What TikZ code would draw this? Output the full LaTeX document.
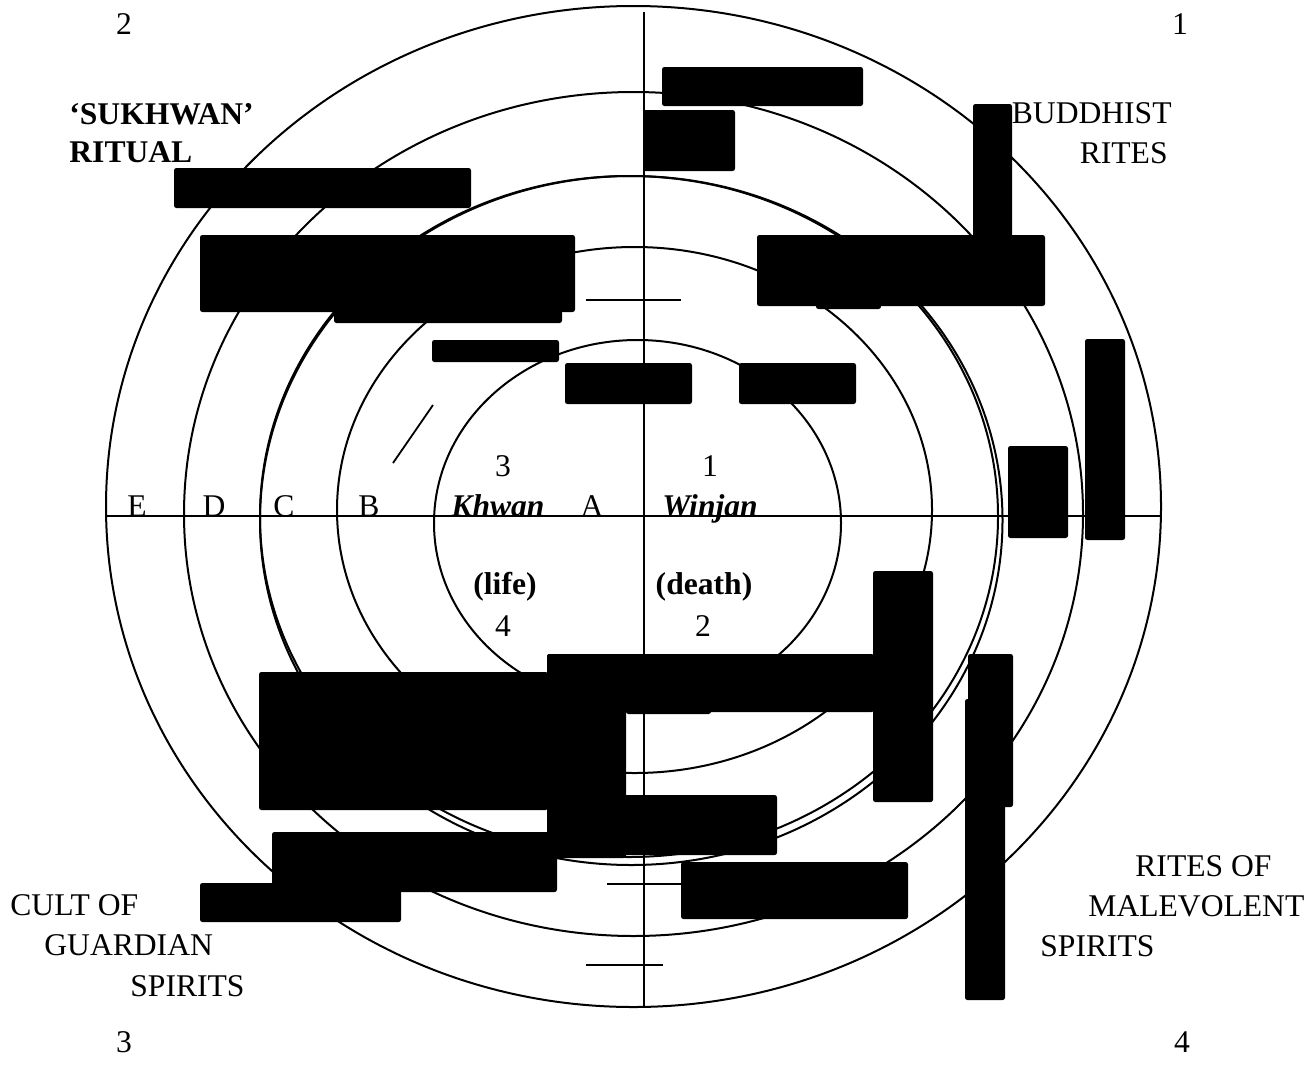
\documentclass[tikz,border=0pt]{standalone}
\usepackage{fontspec}
\setmainfont{Liberation Serif}

\begin{document}
\begin{tikzpicture}[
    x=0.5pt, y=-0.5pt,
    every node/.style={font=\fontsize{15.8}{19}\selectfont, inner sep=0pt},
    ring/.style={draw, line width=1pt},
    axis/.style={draw, line width=1pt},
    tick/.style={draw, line width=0.9pt},
    redact/.style={fill=black, rounded corners=1.2pt},
    heading/.style={font=\fontsize{15.8}{19}\selectfont\bfseries},
    term/.style={font=\fontsize{15.8}{19}\selectfont\bfseries\itshape}
]

\useasboundingbox (0,0) rectangle (1315,1076);

% Rings E (outer) to A (inner)
\draw[ring] (633.5,506.5) ellipse [x radius=527.5, y radius=500.5];
\draw[ring] (633.5,514) ellipse [x radius=449.5, y radius=422];
\draw[ring] (629,516.5) ellipse [x radius=369, y radius=340.5];
\draw[ring] (631.25,520.5) ellipse [x radius=371.25, y radius=344.5];
\draw[ring] (634.5,510) ellipse [x radius=297.5, y radius=263];
\draw[ring] (637.5,523) ellipse [x radius=203.5, y radius=183];

% Axes
\coordinate (north) at (644,12);
\coordinate (south) at (644,1008);
\coordinate (west) at (106,516);
\coordinate (east) at (1161,516);
\draw[axis] (north) -- (south);
\draw[axis] (west) -- (east);

% Small marks
\draw[tick] (586,300) -- (681,300);
\draw[tick] (615,773) -- (644,773);
\draw[tick] (607,884) -- (690,884);
\draw[tick] (586,965) -- (663,965);
\draw[tick] (393,463) -- (433,405);

% Blacked-out boxes
\fill[redact] (662,67) rectangle (863,106);
\fill[redact] (643,110) rectangle (735,171);
\fill[redact] (973,104) rectangle (1012,305);
\fill[redact] (757,235) rectangle (1045,306);
\fill[redact] (816,304) rectangle (881,309);
\fill[redact] (174,168) rectangle (471,208);
\fill[redact] (200,235) rectangle (575,312);
\fill[redact] (334,310) rectangle (562,323);
\fill[redact] (432,340) rectangle (559,362);
\fill[redact] (565,363) rectangle (692,404);
\fill[redact] (739,363) rectangle (856,404);
\fill[redact] (1008,446) rectangle (1068,538);
\fill[redact] (1085,339) rectangle (1125,540);
\fill[redact] (873,571) rectangle (933,802);
\fill[redact] (547,654) rectangle (874,712);
\fill[redact] (626,710) rectangle (711,714);
\fill[redact] (259,672) rectangle (548,810);
\fill[redact] (547,654) rectangle (626,858);
\fill[redact] (547,795) rectangle (777,855);
\fill[redact] (272,832) rectangle (557,892);
\fill[redact] (200,883) rectangle (401,922);
\fill[redact] (681,862) rectangle (908,919);
\fill[redact] (968,654) rectangle (1013,807);
\fill[redact] (965,699) rectangle (1005,1000);

% Quadrant numbers
\node[anchor=base] (quadtwo) at (124,34) {2};
\node[anchor=base] (quadone) at (1180,34) {1};
\node[anchor=base] (quadthree) at (124,1052) {3};
\node[anchor=base] (quadfour) at (1182,1052) {4};

% Corner headings
\node[heading, anchor=base west] (sukhwan) at (69,124) {‘SUKHWAN’};
\node[heading, anchor=base west] (ritual) at (69,162) {RITUAL};
\node[anchor=base east] (buddhist) at (1172,123) {BUDDHIST};
\node[anchor=base east] (rites) at (1168,163) {RITES};
\node[anchor=base west] (cultof) at (10,915) {CULT OF};
\node[anchor=base west] (guardian) at (44,955) {GUARDIAN};
\node[anchor=base west] (spiritsleft) at (130,996) {SPIRITS};
\node[anchor=base west] (ritesof) at (1135,876) {RITES OF};
\node[anchor=base west] (malevolent) at (1088,916) {MALEVOLENT};
\node[anchor=base west] (spiritsright) at (1040,956) {SPIRITS};

% Ring letters
\node[anchor=base] (ringE) at (137,516) {E};
\node[anchor=base] (ringD) at (214,516) {D};
\node[anchor=base] (ringC) at (284,516) {C};
\node[anchor=base] (ringB) at (369,516) {B};
\node[anchor=base] (ringA) at (592,516) {A};

% Centre terms
\node[term, anchor=base] (khwan) at (498,516) {Khwan};
\node[term, anchor=base] (winjan) at (710,516) {Winjan};
\node[anchor=base] (innerthree) at (503,476) {3};
\node[anchor=base] (innerone) at (710,476) {1};
\node[heading, anchor=base] (life) at (505,594) {(life)};
\node[heading, anchor=base] (death) at (704,594) {(death)};
\node[anchor=base] (innerfour) at (503,636) {4};
\node[anchor=base] (innertwo) at (703,636) {2};

\end{tikzpicture}
\end{document}
